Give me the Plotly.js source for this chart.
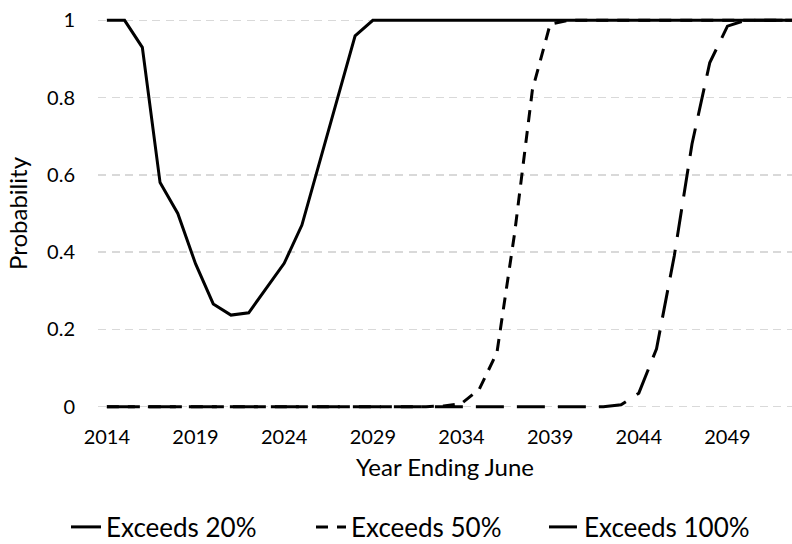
<!DOCTYPE html>
<html>
<head>
<meta charset="utf-8">
<script src="https://cdn.plot.ly/plotly-3.0.1.min.js"></script>
<style>html,body{margin:0;padding:0;background:#fff;}</style>
</head>
<body>
<div id="chart" style="width:792px;height:544px;"></div>
<script>
const years = [2014,2015,2016,2017,2018,2019,2020,2021,2022,2023,2024,2025,2026,2027,2028,2029,2030,2031,2032,2033,2034,2035,2036,2037,2038,2039,2040,2041,2042,2043,2044,2045,2046,2047,2048,2049,2050,2051,2052,2053];
const exceeds20 = [1,1,0.93,0.58,0.50,0.37,0.266,0.237,0.243,0.307,0.371,0.47,0.635,0.80,0.96,1,1,1,1,1,1,1,1,1,1,1,1,1,1,1,1,1,1,1,1,1,1,1,1,1];
const exceeds50 = [0,0,0,0,0,0,0,0,0,0,0,0,0,0,0,0,0,0,0,0.002,0.008,0.045,0.14,0.45,0.82,0.99,1,1,1,1,1,1,1,1,1,1,1,1,1,1];
const exceeds100 = [0,0,0,0,0,0,0,0,0,0,0,0,0,0,0,0,0,0,0,0,0,0,0,0,0,0,0,0,0,0.005,0.035,0.15,0.39,0.68,0.89,0.985,1,1,1,1];
const seriesNames = ["Exceeds 20%","Exceeds 50%","Exceeds 100%"];
const xTickVals = [2014,2019,2024,2029,2034,2039,2044,2049];
const yTickVals = [0,0.2,0.4,0.6,0.8,1];
const yTickText = ["0","0.2","0.4","0.6","0.8","1"];

const FONT = "Lato, 'Open Sans', sans-serif";
const traces = [
  {x: years, y: exceeds20, name: seriesNames[0], mode: "lines", legend: "legend", line: {color: "#000", width: 3}},
  {x: years, y: exceeds50, name: seriesNames[1], mode: "lines", legend: "legend2", line: {color: "#000", width: 3, dash: "12px,9px"}},
  {x: years, y: exceeds100, name: seriesNames[2], mode: "lines", legend: "legend3", line: {color: "#000", width: 3, dash: "28px,13px"}}
];
function leg(textStart) {
  return {
    orientation: "h", xref: "container", yref: "container",
    x: (textStart - 42) / 792, xanchor: "left", y: 17 / 544, yanchor: "middle",
    font: {family: FONT, size: 26, color: "#000"},
    bgcolor: "rgba(0,0,0,0)", borderwidth: 0
  };
}
const layout = {
  width: 792, height: 544,
  margin: {l: 98, r: 0, t: 18, b: 135},
  paper_bgcolor: "#fff", plot_bgcolor: "#fff",
  font: {family: FONT, color: "#000", size: 20},
  showlegend: true,
  xaxis: {
    range: [2013.5, 2052.64],
    tickvals: xTickVals,
    ticktext: xTickVals.map(String),
    showgrid: false, zeroline: false, showline: false,
    ticks: "", ticklabelstandoff: 14,
    tickfont: {family: FONT, size: 20, color: "#000"},
    title: {text: "Year Ending June", font: {family: FONT, size: 24, color: "#000"}, standoff: 12}
  },
  yaxis: {
    range: [-0.006, 1.006],
    tickvals: yTickVals, ticktext: yTickText,
    showgrid: true, gridcolor: "#d9d9d9", gridwidth: 1.5, griddash: "8px,5.5px",
    zeroline: false, showline: false, ticks: "", ticklabelstandoff: 22,
    tickfont: {family: FONT, size: 20, color: "#000"},
    title: {text: "Probability", font: {family: FONT, size: 24, color: "#000"}, standoff: 12}
  },
  legend: leg(108),
  legend2: leg(353),
  legend3: leg(586)
};
Plotly.newPlot("chart", traces, layout, {displayModeBar: false, staticPlot: true});
</script>
</body>
</html>
